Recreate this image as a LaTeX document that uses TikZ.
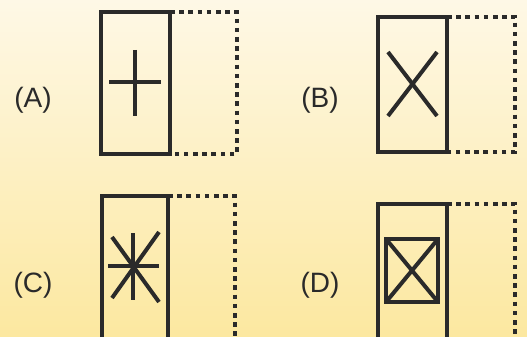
\documentclass[tikz,border=0pt]{standalone}
\usepackage{fontspec}
\setmainfont{Liberation Sans}
\definecolor{paperTop}{HTML}{FEF8E6}
\definecolor{paperBot}{HTML}{FCE8A0}
\definecolor{ink}{HTML}{2A2A2A}
\tikzset{
  solidbox/.style={draw=ink, line width=4.5pt},
  dotbox/.style={draw=ink, line width=4pt, dash pattern=on 4.6pt off 4.6pt},
  symb/.style={draw=ink, line width=4pt},
  tag/.style={font=\fontsize{28}{32}\selectfont, text=ink}
}
\begin{document}
\begin{tikzpicture}[x=1pt, y=-1pt]

% ── Background ──
\shade[top color=paperTop, bottom color=paperBot] (0,0) rectangle (527,337);
\useasboundingbox (0,0) rectangle (527,337);

% ── Labels ──
\node[tag] (labA) at (33,100) {(A)};
\node[tag] (labB) at (320,100) {(B)};
\node[tag] (labC) at (33,285) {(C)};
\node[tag] (labD) at (320,285) {(D)};

% ── (A) plus ──
\draw[dotbox] (170,12) -- (237,12) -- (237,154) -- (170,154);
\draw[solidbox] (101,12) rectangle (170,154);
\draw[symb] (134.5,50) -- (134.5,116);
\draw[symb] (109,82) -- (161,82);

% ── (B) cross ──
\draw[dotbox] (447,17) -- (515,17) -- (515,152) -- (447,152);
\draw[solidbox] (378,17) rectangle (447,152);
\draw[symb] (388,52) -- (437,116);
\draw[symb] (437,52) -- (388,116);

% ── (C) star ──
\draw[dotbox] (168,196) -- (235,196) -- (235,345) -- (168,345);
\draw[solidbox] (102,196) rectangle (168,345);
\draw[symb] (133,233) -- (133,300);
\draw[symb] (108,266) -- (159,266);
\draw[symb] (112,237) -- (159,302);
\draw[symb] (159,232) -- (112,298);

% ── (D) boxed cross ──
\draw[dotbox] (447,204) -- (515,204) -- (515,345) -- (447,345);
\draw[solidbox] (378,204) rectangle (447,345);
\draw[symb] (386,239) rectangle (438,302);
\draw[symb] (386,239) -- (438,302);
\draw[symb] (438,239) -- (386,302);

\end{tikzpicture}
\end{document}
